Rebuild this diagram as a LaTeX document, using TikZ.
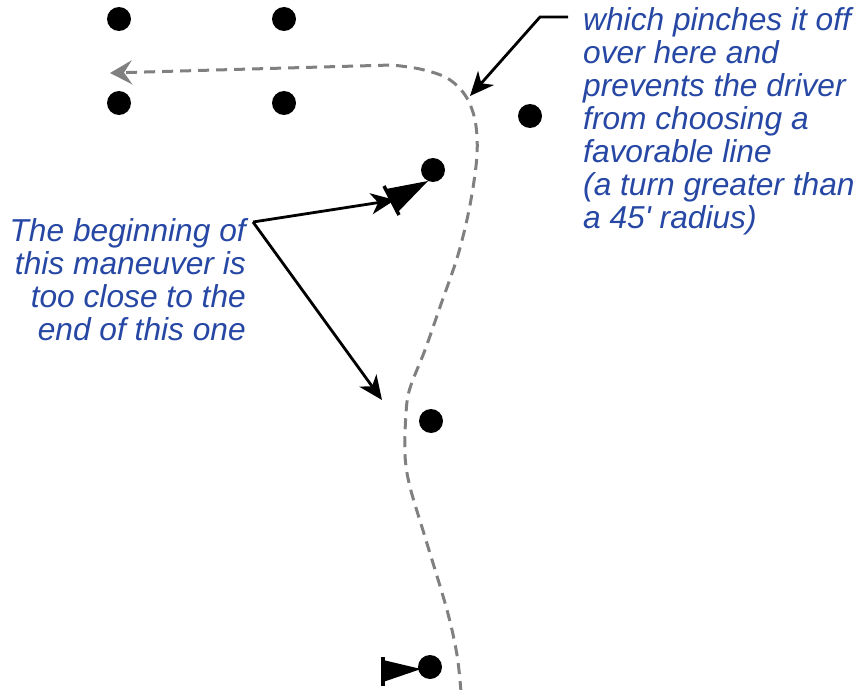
\documentclass[tikz,border=0pt]{standalone}
\usepackage{fontspec}
\newfontfamily\labfont{Liberation Sans}
\usetikzlibrary{arrows.meta}
\definecolor{noteblue}{RGB}{38,71,164}
\definecolor{pathgray}{RGB}{128,128,128}
\tikzset{
  pylon/.style={circle,fill=black,inner sep=0pt,minimum size=24pt},
  note/.style={inner sep=0pt,text=noteblue,font=\labfont\itshape\fontsize{31.7}{33}\selectfont},
  pointer/.style={draw=black,line width=2.8pt,-{Stealth[length=24pt,width=21pt,inset=7pt]}},
  driveline/.style={draw=pathgray,line width=3pt,dash pattern=on 11pt off 7pt,
    -{Stealth[length=22pt,width=24pt,inset=8pt]}},
  conebody/.style={fill=black},
  conebase/.style={draw=black,line width=3.5pt}
}
\begin{document}
\begin{tikzpicture}[x=1pt,y=-1pt]
\useasboundingbox (0,0) rectangle (860,690);

% pylons
\node[pylon] (g1) at (119,19) {};
\node[pylon] (g2) at (284,19) {};
\node[pylon] (g3) at (119,103) {};
\node[pylon] (g4) at (284,103) {};
\node[pylon] (p1) at (530,116) {};
\node[pylon] (p2) at (433,170) {};
\node[pylon] (p3) at (431,421) {};
\node[pylon] (p4) at (430,667) {};

% cones knocked toward the start of each maneuver
\fill[conebody] (386,189) -- (398,212) -- (428,181) -- cycle;
\draw[conebase] (384,186) -- (399,215);
\fill[conebody] (383,660) -- (383,682) -- (421,669) -- cycle;
\draw[conebase] (383,657) -- (383,686);

% driving line
\draw[driveline] plot[smooth,tension=0.55] coordinates {
  (461,692) (457,655) (447,610) (425,537) (410,487) (405,455) (406,413)
  (410,388) (425,350) (440,307) (458,255) (470,205) (477,155) (475,120)
  (465,95) (447,78) (420,69) (392,65)} -- (110,73);

% notes
\node[note,anchor=north east,align=right] (leftnote) at (246,218)
  {The beginning of\\this maneuver is\\too close to the\\end of this one};
\node[note,anchor=north west,align=left] (rightnote) at (583,7)
  {which pinches it off\\over here and\\prevents the driver\\from choosing a\\favorable line\\(a turn greater than\\a 45' radius)};

% leader lines
\coordinate (lsplit) at (253,222);
\coordinate (conetip) at (395,200);
\coordinate (linetip) at (382,400);
\coordinate (rstart) at (568,17);
\coordinate (rbend) at (540,17);
\coordinate (pinch) at (470,96);
\draw[pointer] (lsplit) -- (conetip);
\draw[pointer] (lsplit) -- (linetip);
\draw[pointer] (rstart) -- (rbend) -- (pinch);
\end{tikzpicture}
\end{document}
